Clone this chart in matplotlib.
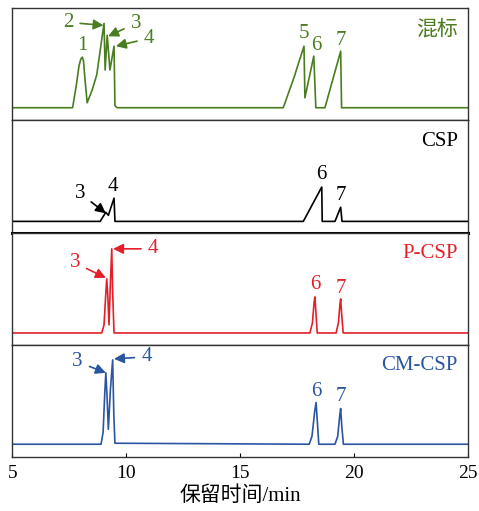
import matplotlib.pyplot as plt

plt.rcParams['font.family'] = ['Liberation Serif', 'Noto Sans CJK SC']

# Chromatogram traces (retention time in min, signal in arbitrary units)
mix_t = [5.0, 7.64, 7.80, 7.92, 8.00, 8.07, 8.12, 8.18, 8.28, 8.50, 8.70,
         9.02, 9.07, 9.16, 9.28, 9.46, 9.50, 9.60, 16.89, 17.40, 17.45,
         17.80, 17.84, 18.23, 18.32, 18.72, 19.41, 19.45, 25.0]
mix_y = [0, 0, 22, 42, 49, 51, 47, 30, 5, 18, 33,
         85, 38, 73, 38, 62, 2, 0, 0, 33, 37,
         62, 10, 52, 0, 0, 57, 0, 0]

csp_t = [5.0, 8.85, 9.10, 9.21, 9.46, 9.50, 17.77, 18.58, 18.60, 19.16,
         19.41, 19.47, 25.0]
csp_y = [0, 0, 9, 6, 23, 0, 0, 34, 0, 0, 14, 0, 0]

pcsp_t = [5.0, 8.92, 9.02, 9.10, 9.14, 9.18, 9.24, 9.30, 9.36, 9.40, 9.46,
          18.06, 18.17, 18.24, 18.28, 18.32, 18.38, 19.21, 19.31, 19.38,
          19.41, 19.45, 19.52, 25.0]
pcsp_y = [0, 0, 8, 40, 54, 40, 8, 50, 84, 40, 0,
          0, 10, 30, 36, 22, 0, 0, 10, 29, 34, 20, 0, 0]

cmcsp_t = [5.0, 8.89, 8.98, 9.06, 9.10, 9.15, 9.21, 9.30, 9.40, 9.45, 9.50,
           18.03, 18.15, 18.27, 18.33, 18.38, 18.45, 19.16, 19.28, 19.37,
           19.41, 19.46, 19.53, 25.0]
cmcsp_y = [0, 0, 12, 55, 72, 50, 15, 55, 85, 30, 1,
           0, 8, 33, 42, 25, 0, 0, 8, 29, 36, 18, 0, 0]

names = ['混标', 'CSP', 'P-CSP', 'CM-CSP']
colors = ['#4a7d1f', 'black', '#e3202a', '#2a55a2']
traces = [(mix_t, mix_y), (csp_t, csp_y), (pcsp_t, pcsp_y), (cmcsp_t, cmcsp_y)]
ylims = [(-12.7, 100.3), (-11, 100), (-11.7, 100.3), (-12.7, 100.3)]

# peak numbers: (label, text x, text y, arrow head or None)
peak_labels = [
    [('1', 8.07, 63, None), ('2', 7.44, 86, (9.0, 83)),
     ('3', 10.42, 85, (9.2, 72)), ('4', 11.0, 70, (9.54, 62)),
     ('5', 17.81, 75, None), ('6', 18.33, 63, None), ('7', 19.41, 68, None)],
    [('3', 7.96, 28, (9.1, 8)), ('4', 9.43, 35, None),
     ('6', 18.58, 46, None), ('7', 19.41, 26, None)],
    [('3', 7.74, 70, (9.1, 55)), ('4', 11.18, 84, (9.42, 84)),
     ('6', 18.28, 48, None), ('7', 19.41, 44, None)],
    [('3', 7.86, 83, (9.1, 72)), ('4', 10.89, 88, (9.46, 86)),
     ('6', 18.33, 53, None), ('7', 19.41, 48, None)],
]

fig, axes = plt.subplots(4, 1, sharex=True, figsize=(4.79, 5.11), dpi=100)
fig.subplots_adjust(left=0.026, right=0.977, bottom=0.106, top=0.984, hspace=0)

for i, ax in enumerate(axes):
    t, y = traces[i]
    ax.plot(t, y, color=colors[i], lw=1.2)
    ax.set_ylim(ylims[i])
    ax.set_xlim(5, 25)
    ax.set_yticks([])
    for s in ax.spines.values():
        s.set_color('#333333')
        s.set_linewidth(1.0)
    ax.tick_params(axis='x', direction='in', length=3, labelsize=14, pad=6)
    ax.text(0.978, 0.81, names[i], transform=ax.transAxes, ha='right',
            va='center', fontsize=15, color=colors[i])
    for lab, tx, ty, head in peak_labels[i]:
        if head is None:
            ax.text(tx, ty, lab, ha='center', va='center', fontsize=15,
                    color=colors[i])
        else:
            ax.annotate(lab, xy=head, xytext=(tx, ty), ha='center',
                        va='center', fontsize=15, color=colors[i],
                        arrowprops=dict(arrowstyle='-|>', color=colors[i],
                                        lw=1.2, mutation_scale=15,
                                        shrinkA=3, shrinkB=0))

axes[1].spines['bottom'].set_linewidth(2.2)
axes[1].spines['bottom'].set_color('black')
for ax in axes[:-1]:
    ax.tick_params(axis='x', length=0)
axes[-1].set_xticks([5, 10, 15, 20, 25])
axes[-1].set_xlabel('保留时间/min', fontsize=15, labelpad=3)

plt.savefig('out.png', dpi=100)
